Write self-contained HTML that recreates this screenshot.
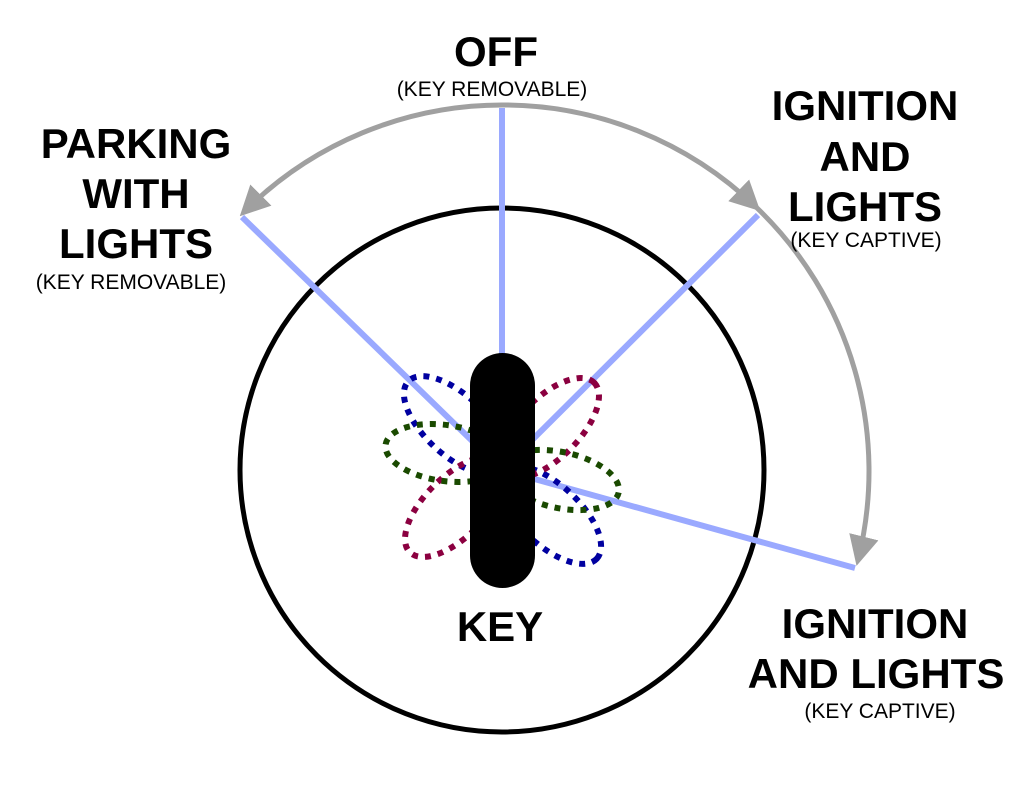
<!DOCTYPE html>
<html><head><style>
html,body{margin:0;padding:0;background:#fff;}
svg{display:block;}
text{font-family:"Liberation Sans",sans-serif;fill:#000;text-anchor:middle;}
.b{font-weight:bold;font-size:42px;}
.s{font-size:21px;}
</style></head><body>
<svg width="1024" height="794" viewBox="0 0 1024 794">
<defs>
<marker id="ah" viewBox="0 0 10 10" refX="8" refY="5" markerWidth="6" markerHeight="6" orient="auto" markerUnits="strokeWidth">
<path d="M0,0 L10,5 L0,10 z" fill="#a0a0a0"/>
</marker>
</defs>
<circle cx="502" cy="470" r="262" fill="none" stroke="#000" stroke-width="5"/>
<g stroke="#9aa9ff" stroke-width="6" fill="none">
<line x1="502" y1="470" x2="502" y2="108"/>
<line x1="502" y1="470" x2="242" y2="217"/>
<line x1="502" y1="470" x2="758" y2="215"/>
<line x1="502" y1="470" x2="855" y2="568"/>
</g>
<g stroke="#a0a0a0" stroke-width="5" fill="none">
<path d="M502,105 A365,365 0 0 0 244,212" marker-end="url(#ah)"/>
<path d="M502,105 A365,365 0 0 1 756,207" marker-end="url(#ah)"/>
<path d="M756,207 A365,365 0 0 1 858,560" marker-end="url(#ah)"/>
</g>
<g fill="none" stroke-width="6" stroke-dasharray="6,7">
<ellipse cx="455" cy="425" rx="64" ry="30" transform="rotate(43 455 425)" stroke="#0000a0"/>
<ellipse cx="550" cy="515" rx="64" ry="30" transform="rotate(43 550 515)" stroke="#0000a0"/>
<ellipse cx="549" cy="428" rx="64" ry="30" transform="rotate(-45 549 428)" stroke="#8b0040"/>
<ellipse cx="455" cy="507" rx="64" ry="30" transform="rotate(-45 455 507)" stroke="#8b0040"/>
<ellipse cx="445" cy="453" rx="60" ry="28" transform="rotate(8 445 453)" stroke="#1a4a00"/>
<ellipse cx="560" cy="480" rx="60" ry="28" transform="rotate(12 560 480)" stroke="#1a4a00"/>
</g>
<rect x="470" y="353" width="65" height="235" rx="32.5" fill="#000"/>
<text class="b" x="496" y="66">OFF</text>
<text class="s" x="492" y="96">(KEY REMOVABLE)</text>
<text class="b" x="136" y="158">PARKING</text>
<text class="b" x="136" y="208">WITH</text>
<text class="b" x="136" y="258">LIGHTS</text>
<text class="s" x="131" y="289">(KEY REMOVABLE)</text>
<text class="b" x="865" y="120">IGNITION</text>
<text class="b" x="865" y="171">AND</text>
<text class="b" x="865" y="221">LIGHTS</text>
<text class="s" x="866" y="247">(KEY CAPTIVE)</text>
<text class="b" x="875" y="638">IGNITION</text>
<text class="b" x="876" y="688">AND LIGHTS</text>
<text class="s" x="880" y="718">(KEY CAPTIVE)</text>
<text class="b" x="500" y="641">KEY</text>
</svg>
</body></html>
